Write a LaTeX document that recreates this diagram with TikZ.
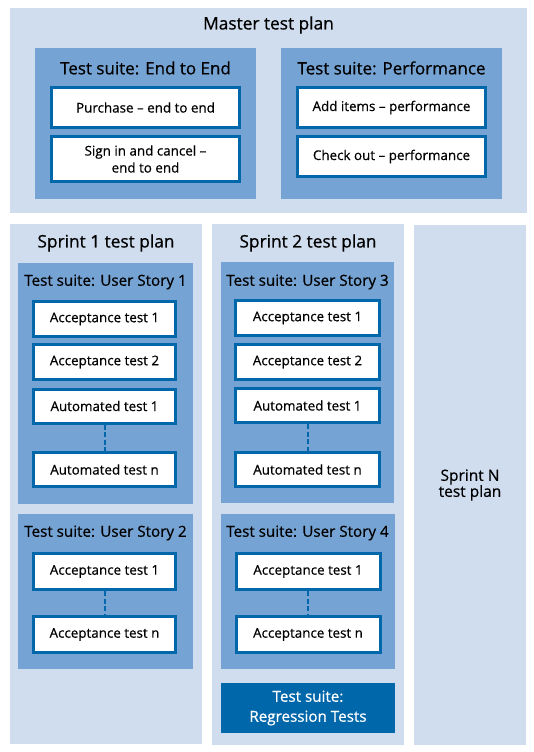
\documentclass[tikz,border=0pt]{standalone}
\usepackage{fontspec}
\setmainfont{Open Sans}[RawFeature={embolden=0.6}]
\definecolor{planbg}{HTML}{D0DDEE}
\definecolor{suitebg}{HTML}{75A3D3}
\definecolor{darkblue}{HTML}{0067AA}
\tikzset{
  plan/.style={fill=planbg, draw=none, inner sep=0pt},
  suite/.style={fill=suitebg, draw=none, inner sep=0pt},
  regsuite/.style={fill=darkblue, draw=none, inner sep=0pt, text=white, align=center,
    font=\fontsize{15.2}{20}\selectfont},
  testbox/.style={fill=white, draw=darkblue, line width=3pt, inner sep=0pt, align=center,
    font=\fontsize{13.4}{17}\selectfont},
  plantitle/.style={inner sep=0pt, font=\fontsize{17.3}{20}\selectfont},
  bigsuitetitle/.style={inner sep=0pt, font=\fontsize{17}{20}\selectfont},
  suitetitle/.style={inner sep=0pt, font=\fontsize{15.2}{18}\selectfont},
  dashline/.style={draw=darkblue, line width=2pt, dash pattern=on 5pt off 2.5pt},
}
\begin{document}
\begin{tikzpicture}[x=1pt,y=-1pt]
\useasboundingbox[fill=white] (0,0) rectangle (534,752);
% plans
\node[plan, minimum width=517pt, minimum height=205pt] (master) at (268.5,110.5) {};
\node[plan, minimum width=192pt, minimum height=520pt] (sprint1) at (106,484) {};
\node[plan, minimum width=192pt, minimum height=521pt] (sprint2) at (308,484.5) {};
\node[plan, minimum width=112pt, minimum height=520pt, align=center,
  font=\fontsize{15.5}{16}\selectfont] (sprintN) at (470,485) {Sprint N\\test plan};
\node[plantitle] (mastertitle) at (268.5,25) {Master test plan};
\node[plantitle] (s1title) at (106,243) {Sprint 1 test plan};
\node[plantitle] (s2title) at (308,243) {Sprint 2 test plan};
% suites
\node[suite, minimum width=221pt, minimum height=151pt] (e2e) at (145.5,123.5) {};
\node[suite, minimum width=221pt, minimum height=151pt] (perf) at (391.5,123.5) {};
\node[suite, minimum width=175pt, minimum height=241pt] (us1) at (105.5,383.5) {};
\node[suite, minimum width=175pt, minimum height=155pt] (us2) at (105.5,591.5) {};
\node[suite, minimum width=173pt, minimum height=241pt] (us3) at (307.5,382.5) {};
\node[suite, minimum width=174pt, minimum height=155pt] (us4) at (308,591.5) {};
\node[regsuite, minimum width=174pt, minimum height=50pt] (reg) at (308,708) {Test suite:\\Regression Tests};
\node[bigsuitetitle] (e2etitle) at (145.5,68) {Test suite: End to End};
\node[bigsuitetitle] (perftitle) at (391.5,68) {Test suite: Performance};
\node[suitetitle] (us1title) at (105.5,282) {Test suite: User Story 1};
\node[suitetitle] (us2title) at (105.5,533) {Test suite: User Story 2};
\node[suitetitle] (us3title) at (307.5,282) {Test suite: User Story 3};
\node[suitetitle] (us4title) at (307.5,533) {Test suite: User Story 4};
% master test boxes
\node[testbox, minimum width=188pt, minimum height=40pt] (purchase) at (145.5,107.5) {Purchase – end to end};
\node[testbox, minimum width=188pt, minimum height=45pt] (signin) at (145.5,159) {Sign in and cancel –\\end to end};
\node[testbox, minimum width=188pt, minimum height=40pt] (additems) at (391.5,107.5) {Add items – performance};
\node[testbox, minimum width=188pt, minimum height=40pt] (checkout) at (391.5,156.5) {Check out – performance};
% sprint 1
\node[testbox, minimum width=142pt, minimum height=35pt] (s1a1) at (104.5,319) {Acceptance test 1};
\node[testbox, minimum width=142pt, minimum height=35pt] (s1a2) at (104.5,362) {Acceptance test 2};
\node[testbox, minimum width=142pt, minimum height=34pt] (s1u1) at (104.5,406) {Automated test 1};
\node[testbox, minimum width=142pt, minimum height=34pt] (s1un) at (104.5,469.5) {Automated test n};
\node[testbox, minimum width=142pt, minimum height=36pt] (s1b1) at (104.5,571.5) {Acceptance test 1};
\node[testbox, minimum width=142pt, minimum height=36pt] (s1bn) at (104.5,634.5) {Acceptance test n};
% sprint 2
\node[testbox, minimum width=144pt, minimum height=35pt] (s2a1) at (307.5,318) {Acceptance test 1};
\node[testbox, minimum width=144pt, minimum height=35pt] (s2a2) at (307.5,362) {Acceptance test 2};
\node[testbox, minimum width=144pt, minimum height=34pt] (s2u1) at (307.5,405.5) {Automated test 1};
\node[testbox, minimum width=144pt, minimum height=34pt] (s2un) at (307.5,469.5) {Automated test n};
\node[testbox, minimum width=144pt, minimum height=36pt] (s2b1) at (308,571.5) {Acceptance test 1};
\node[testbox, minimum width=144pt, minimum height=36pt] (s2bn) at (308,634.5) {Acceptance test n};
% dashed connectors
\draw[dashline] (s1u1) -- (s1un);
\draw[dashline] (s1b1) -- (s1bn);
\draw[dashline] (s2u1) -- (s2un);
\draw[dashline] (s2b1) -- (s2bn);
\end{tikzpicture}
\end{document}
